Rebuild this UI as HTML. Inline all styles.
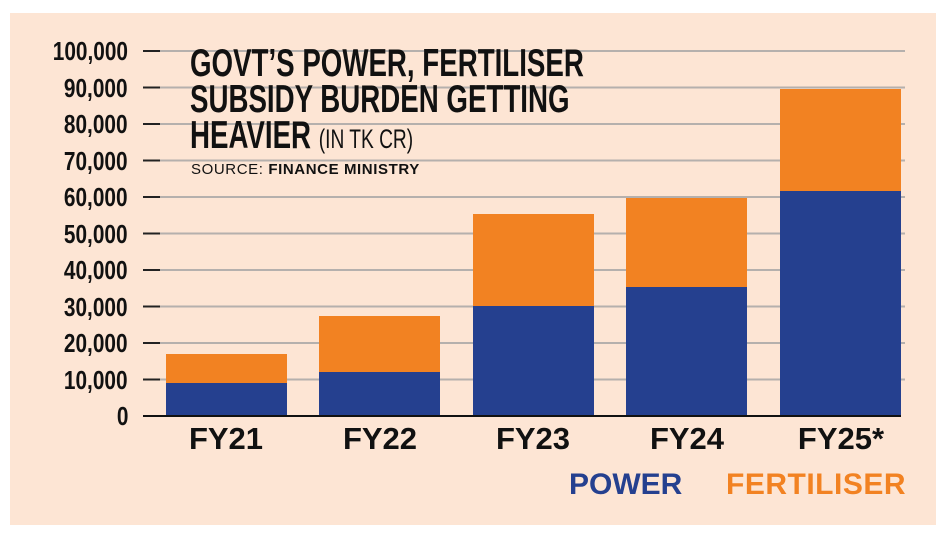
<!DOCTYPE html>
<html><head><style>
body{margin:0;width:946px;height:538px;background:#fff;position:relative;overflow:hidden;font-family:"Liberation Sans",sans-serif}
#p{position:absolute;left:10px;top:13px;width:926px;height:512px;background:#fde5d4}
.y{position:absolute;right:818px;font-weight:bold;font-size:26px;line-height:26px;color:#111;transform:scaleX(0.8);transform-origin:right}
.t{position:absolute;left:190px;font-weight:bold;font-size:39px;line-height:36px;color:#111;transform:scaleX(0.71);transform-origin:left;white-space:nowrap}
.x{position:absolute;top:421px;width:140px;text-align:center;font-weight:bold;font-size:31px;color:#111}
</style></head><body>
<div id="p"></div>
<svg style="position:absolute;left:0;top:0" width="946" height="538">
<g stroke="#b5b0ad" stroke-width="2">
<line x1="145" x2="905" y1="51" y2="51"/><line x1="145" x2="905" y1="87.5" y2="87.5"/><line x1="145" x2="905" y1="124" y2="124"/><line x1="145" x2="905" y1="160.5" y2="160.5"/><line x1="145" x2="905" y1="197" y2="197"/><line x1="145" x2="905" y1="233.5" y2="233.5"/><line x1="145" x2="905" y1="270" y2="270"/><line x1="145" x2="905" y1="306.5" y2="306.5"/><line x1="145" x2="905" y1="343" y2="343"/><line x1="145" x2="905" y1="379.5" y2="379.5"/>
</g>
<g stroke="#222" stroke-width="2">
<line x1="143" x2="160" y1="51" y2="51"/><line x1="143" x2="160" y1="87.5" y2="87.5"/><line x1="143" x2="160" y1="124" y2="124"/><line x1="143" x2="160" y1="160.5" y2="160.5"/><line x1="143" x2="160" y1="197" y2="197"/><line x1="143" x2="160" y1="233.5" y2="233.5"/><line x1="143" x2="160" y1="270" y2="270"/><line x1="143" x2="160" y1="306.5" y2="306.5"/><line x1="143" x2="160" y1="343" y2="343"/><line x1="143" x2="160" y1="379.5" y2="379.5"/>
</g>
<g fill="#f28222">
<rect x="166" y="354" width="121" height="62"/><rect x="319" y="316" width="121" height="100"/><rect x="473" y="214" width="121" height="202"/><rect x="626" y="198" width="121" height="218"/><rect x="780" y="89" width="121" height="327"/>
</g>
<g fill="#25408f">
<rect x="166" y="383" width="121" height="33"/><rect x="319" y="372" width="121" height="44"/><rect x="473" y="306" width="121" height="110"/><rect x="626" y="287" width="121" height="129"/><rect x="780" y="191" width="121" height="225"/>
</g>
<line x1="143" x2="901" y1="416" y2="416" stroke="#111" stroke-width="2"/>
</svg>
<div class="y" style="top:38px">100,000</div>
<div class="y" style="top:75px">90,000</div>
<div class="y" style="top:111px">80,000</div>
<div class="y" style="top:148px">70,000</div>
<div class="y" style="top:184px">60,000</div>
<div class="y" style="top:221px">50,000</div>
<div class="y" style="top:257px">40,000</div>
<div class="y" style="top:294px">30,000</div>
<div class="y" style="top:330px">20,000</div>
<div class="y" style="top:367px">10,000</div>
<div class="y" style="top:403px">0</div>
<div class="t" style="top:46px">GOVT’S POWER, FERTILISER</div>
<div class="t" style="top:82px">SUBSIDY BURDEN GETTING</div>
<div class="t" style="top:118px">HEAVIER <span style="font-weight:normal;font-size:27px">(IN TK CR)</span></div>
<div style="position:absolute;left:191px;top:161px;font-size:15px;color:#111;letter-spacing:0.6px">SOURCE: <b>FINANCE MINISTRY</b></div>
<div class="x" style="left:156px">FY21</div>
<div class="x" style="left:310px">FY22</div>
<div class="x" style="left:463px">FY23</div>
<div class="x" style="left:617px">FY24</div>
<div class="x" style="left:771px">FY25*</div>
<div style="position:absolute;left:569px;top:468px;font-weight:bold;font-size:30px;color:#25408f">POWER</div>
<div style="position:absolute;left:726px;top:468px;font-weight:bold;font-size:30px;color:#f28222;letter-spacing:0.5px">FERTILISER</div>
</body></html>
